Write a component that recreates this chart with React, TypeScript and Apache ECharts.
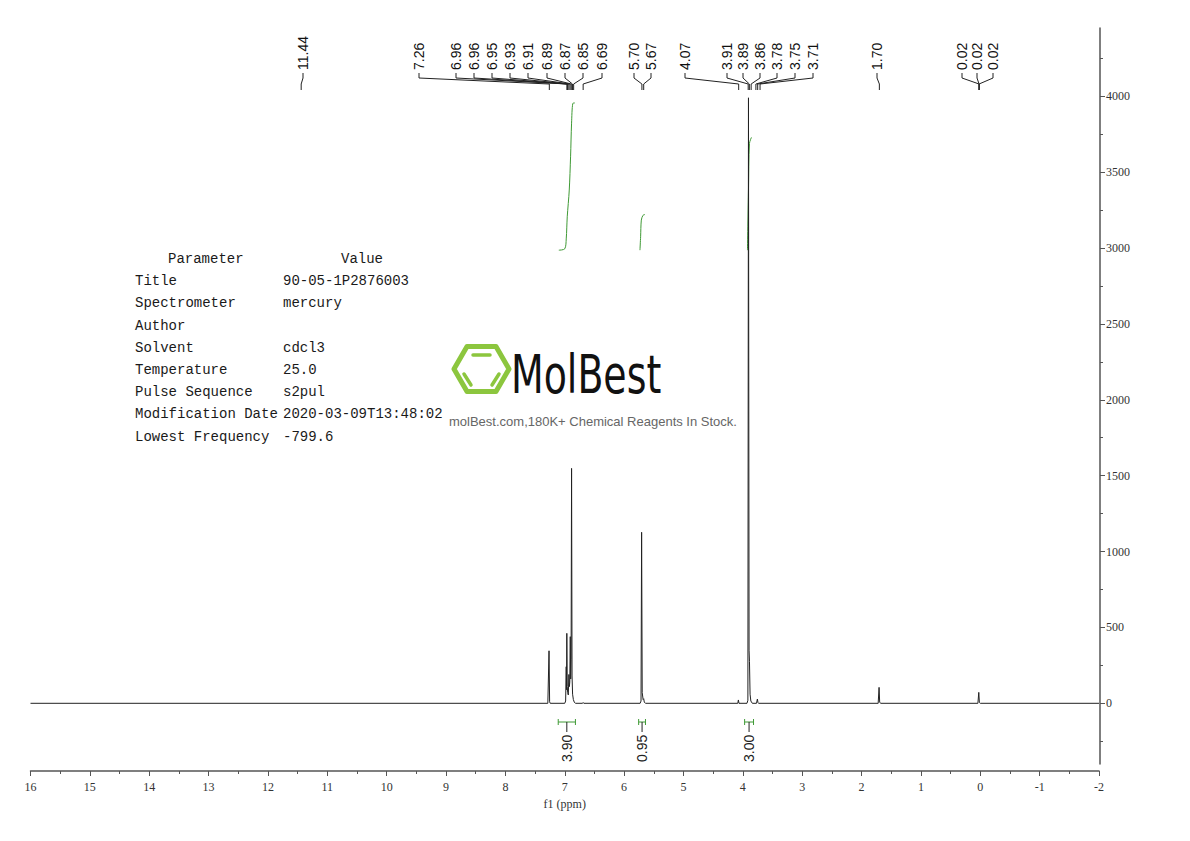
import React, { useEffect, useRef } from "react";
import * as echarts from "echarts";

// ---- data ----
const spectrum: [number, number][] = [
  [16, 0], [7.285, 0], [7.265, 346], [7.255, 10], [7.245, 0],
  [7.0, 0], [6.985, 15], [6.975, 241], [6.97, 90], [6.965, 461], [6.958, 110], [6.95, 70], [6.94, 55],
  [6.93, 190], [6.922, 110], [6.915, 140], [6.907, 439], [6.9, 160], [6.893, 290], [6.885, 1548],
  [6.877, 180], [6.868, 60], [6.855, 25], [6.84, 8], [6.82, 0],
  [6.7, 0], [6.69, 5], [6.68, 0],
  [5.73, 0], [5.715, 15], [5.705, 1127], [5.695, 70], [5.68, 25], [5.67, 30], [5.66, 8], [5.64, 0],
  [4.085, 0], [4.075, 22], [4.065, 0],
  [3.93, 0], [3.915, 20], [3.905, 3990], [3.895, 350], [3.888, 274], [3.878, 60], [3.865, 15], [3.84, 0],
  [3.77, 0], [3.755, 28], [3.745, 5], [3.735, 0],
  [1.72, 0], [1.705, 105], [1.695, 8], [1.68, 0],
  [0.04, 0], [0.025, 72], [0.015, 5], [0.0, 0], [-2, 0],
];

const peakPpm = [11.44, 7.26, 6.96, 6.96, 6.95, 6.93, 6.91, 6.89, 6.87, 6.85, 6.69, 5.7, 5.67, 4.07,
  3.91, 3.89, 3.86, 3.78, 3.75, 3.71, 1.7, 0.02, 0.02, 0.02];

const integralRanges: [number, number][] = [[7.11, 6.82], [5.755, 5.64], [3.97, 3.82]];
const integralValues = [3.9, 0.95, 3.0];

const integralCurve1: [number, number][] = [[7.1, 2986], [7.0, 2995], [6.975, 3060], [6.958, 3206],
  [6.924, 3382], [6.902, 3601], [6.885, 3823], [6.864, 3953], [6.83, 3956]];
const integralCurve2: [number, number][] = [[5.733, 2986], [5.722, 3074], [5.71, 3184], [5.683, 3215], [5.65, 3221]];
const integralCurve3: [number, number][] = [[3.922, 2986], [3.905, 3382], [3.888, 3690], [3.855, 3729]];

const yTickValues = [0, 500, 1000, 1500, 2000, 2500, 3000, 3500, 4000];

const paramNames = ["Title", "Spectrometer", "Author", "Solvent", "Temperature", "Pulse Sequence",
  "Modification Date", "Lowest Frequency"];
const paramValues = ["90-05-1P2876003", "mercury", "", "cdcl3", "25.0", "s2pul", "2020-03-09T13:48:02", "-799.6"];

// ---- layout (pixels) ----
const LABEL_X = [303, 419, 456, 474, 492, 510, 528, 547, 565, 583, 602, 634, 651, 685,
  727, 743, 760, 777, 795, 813, 877, 962, 977, 993];

const GREEN = "#3f9a35";
const LIME = "#8cc63e";
const SERIF = "'Liberation Serif', 'Times New Roman', serif";
const SANS = "'Liberation Sans', Arial, sans-serif";
const MONO = "'Liberation Mono', 'Courier New', monospace";

function buildGraphic() {
  const els: any[] = [];
  const rowH = 22.2;
  const y0 = 259;
  els.push({ type: "text", x: 168, y: y0, style: { text: "Parameter", font: `14px ${MONO}`, fill: "#1a1a1a", verticalAlign: "middle" } });
  els.push({ type: "text", x: 341, y: y0, style: { text: "Value", font: `14px ${MONO}`, fill: "#1a1a1a", verticalAlign: "middle" } });
  paramNames.forEach((n, i) => {
    const y = y0 + (i + 1) * rowH;
    els.push({ type: "text", x: 135, y, style: { text: n, font: `14px ${MONO}`, fill: "#1a1a1a", verticalAlign: "middle" } });
    els.push({ type: "text", x: 283, y, style: { text: paramValues[i], font: `14px ${MONO}`, fill: "#1a1a1a", verticalAlign: "middle" } });
  });
  // logo
  els.push({
    type: "polygon",
    shape: { points: [[454, 369], [467, 346.5], [496, 346.5], [509, 369], [496, 391.5], [467, 391.5]] },
    style: { stroke: LIME, lineWidth: 5, fill: "none", lineJoin: "round" },
  });
  els.push({ type: "line", shape: { x1: 473, y1: 355, x2: 490, y2: 355 }, style: { stroke: LIME, lineWidth: 3.5, lineCap: "round" } });
  els.push({ type: "line", shape: { x1: 464, y1: 374, x2: 471, y2: 385 }, style: { stroke: LIME, lineWidth: 3.5, lineCap: "round" } });
  els.push({ type: "line", shape: { x1: 499, y1: 374, x2: 492, y2: 385 }, style: { stroke: LIME, lineWidth: 3.5, lineCap: "round" } });
  els.push({
    type: "text", x: 511, y: 374, scaleX: 0.78,
    style: { text: "MolBest", font: `54px 'DejaVu Sans Condensed', ${SANS}`, fill: "#111", verticalAlign: "middle" },
  });
  els.push({
    type: "text", x: 449, y: 421,
    style: { text: "molBest.com,180K+ Chemical Reagents In Stock.", font: `13px ${SANS}`, fill: "#666", verticalAlign: "middle" },
  });
  return els;
}

export default function App() {
  const ref = useRef<HTMLDivElement>(null);
  useEffect(() => {
    if (!ref.current) return;
    const chart = echarts.init(ref.current, null, { renderer: "svg" });
    const option: any = {
      animation: false,
      backgroundColor: "#fff",
      grid: { left: 30.5, right: 91, top: 28, bottom: 77, containLabel: false },
      xAxis: {
        type: "value", min: -2, max: 16, interval: 1, inverse: true, offset: 7, position: "bottom",
        axisLine: { onZero: false, lineStyle: { color: "#555", width: 1.5 } },
        axisTick: { length: 5, lineStyle: { color: "#555" } },
        minorTick: { show: true, splitNumber: 2, length: 3, lineStyle: { color: "#555" } },
        splitLine: { show: false },
        axisLabel: { fontFamily: SERIF, fontSize: 12, color: "#333", margin: 10 },
        name: "f1 (ppm)", nameLocation: "middle", nameGap: 26,
        nameTextStyle: { fontFamily: SERIF, fontSize: 12, color: "#333" },
      },
      yAxis: {
        type: "value", position: "right", min: -400, max: 4450, splitNumber: 10, offset: 1,
        axisLine: { show: true, onZero: false, lineStyle: { color: "#555", width: 1.5 } },
        axisTick: { show: true, length: 5, customValues: yTickValues, lineStyle: { color: "#555" } },
        minorTick: { show: true, splitNumber: 2, length: 3, lineStyle: { color: "#555" } },
        splitLine: { show: false },
        axisLabel: {
          customValues: yTickValues,
          formatter: (v: number) => String(v),
          fontFamily: SERIF, fontSize: 12, color: "#333", margin: 6,
        },
      },
      graphic: buildGraphic(),
      series: [
        {
          type: "line", data: spectrum, showSymbol: false, symbol: "none",
          lineStyle: { color: "#222", width: 1 }, silent: true, z: 3,
        },
        ...[integralCurve1, integralCurve2, integralCurve3].map((c) => ({
          type: "line", data: c, showSymbol: false, symbol: "none", smooth: 0.3,
          lineStyle: { color: GREEN, width: 1 }, silent: true, z: 2,
        })),
        {
          type: "custom", silent: true, z: 5,
          data: peakPpm.map((p, i) => [p, i]),
          renderItem: (params: any, api: any) => {
            const i = params.dataIndex;
            const px = api.coord([peakPpm[i], 0])[0];
            const lx = LABEL_X[i];
            return {
              type: "group",
              children: [
                {
                  type: "polyline",
                  shape: { points: [[lx, 73], [lx, 78], [px, 84], [px, 90]] },
                  style: { stroke: "#222", lineWidth: 1, fill: null },
                },
                {
                  type: "text", x: lx, y: 70, rotation: Math.PI / 2,
                  style: { text: peakPpm[i].toFixed(2), font: `14px ${SANS}`, fill: "#111", align: "left", verticalAlign: "middle" },
                },
              ],
            };
          },
        },
        {
          type: "custom", silent: true, z: 5,
          data: integralRanges.map((r, i) => [r[0], i]),
          renderItem: (params: any, api: any) => {
            const i = params.dataIndex;
            const x1 = api.coord([integralRanges[i][0], 0])[0];
            const x2 = api.coord([integralRanges[i][1], 0])[0];
            const cx = (x1 + x2) / 2;
            const yb = 722;
            return {
              type: "group",
              children: [
                { type: "line", shape: { x1, y1: yb, x2, y2: yb }, style: { stroke: GREEN, lineWidth: 1 } },
                { type: "line", shape: { x1, y1: yb - 3, x2: x1, y2: yb + 3 }, style: { stroke: GREEN, lineWidth: 1 } },
                { type: "line", shape: { x1: x2, y1: yb - 3, x2, y2: yb + 3 }, style: { stroke: GREEN, lineWidth: 1 } },
                { type: "line", shape: { x1: cx, y1: yb, x2: cx, y2: yb + 10 }, style: { stroke: "#222", lineWidth: 1 } },
                {
                  type: "text", x: cx, y: 762, rotation: Math.PI / 2,
                  style: { text: integralValues[i].toFixed(2), font: `14px ${SANS}`, fill: "#222", align: "left", verticalAlign: "middle" },
                },
              ],
            };
          },
        },
      ],
    };
    chart.setOption(option);
    return () => chart.dispose();
  }, []);
  return <div ref={ref} style={{ position: "absolute", left: 0, top: 0, width: 1190, height: 841 }} />;
}
